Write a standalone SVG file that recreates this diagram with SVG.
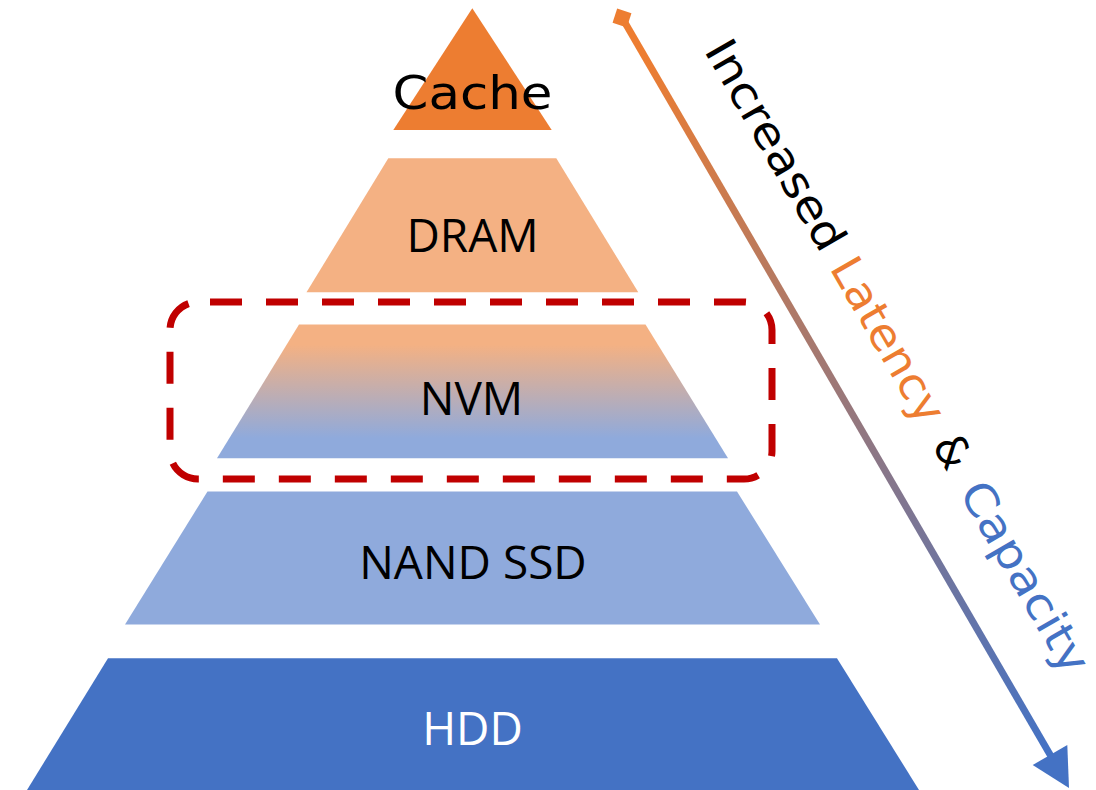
<svg xmlns="http://www.w3.org/2000/svg" width="1096" height="790" viewBox="0 0 1096 790">
  <style>
    .tier-label { font-family: "Open Sans", "Liberation Sans", sans-serif; font-size: 46px; text-anchor: middle; fill: #000000; }
    .geo-label { font-family: "DejaVu Sans", "Liberation Sans", sans-serif; }
    .highlight { fill: none; stroke: #C00000; stroke-width: 7; stroke-dasharray: 32 24; }
  </style>
  <defs>
    <linearGradient id="nvmFill" x1="0" y1="0" x2="0" y2="1">
      <stop offset="0.15" stop-color="#F4B183"/>
      <stop offset="0.85" stop-color="#8FAADC"/>
    </linearGradient>
    <linearGradient id="trendStroke" gradientUnits="userSpaceOnUse" x1="622" y1="17" x2="1069" y2="788">
      <stop offset="0.05" stop-color="#ED7D31"/>
      <stop offset="0.95" stop-color="#4472C4"/>
    </linearGradient>
  </defs>

  <rect width="1096" height="790" fill="#FFFFFF"/>

  <!-- storage hierarchy tiers -->
  <g id="cache">
    <polygon points="472.3,8.3 551.7,130 393.3,130" fill="#ED7D31"/>
    <text class="geo-label" x="472.5" y="109" font-size="47" text-anchor="middle" textLength="160" lengthAdjust="spacingAndGlyphs">Cache</text>
  </g>
  <g id="dram">
    <polygon points="388.3,158.3 556.3,158.3 638.3,292.3 306.5,292.3" fill="#F4B183"/>
    <text class="tier-label" x="472.5" y="251.7">DRAM</text>
  </g>
  <g id="nvm">
    <polygon points="299,324.5 645.5,324.5 728,458.3 217,458.3" fill="url(#nvmFill)"/>
    <text class="tier-label" x="471.5" y="415">NVM</text>
  </g>
  <g id="nand-ssd">
    <polygon points="207.5,491.5 737,491.5 820,624.5 125,624.5" fill="#8FAADC"/>
    <text class="tier-label" x="473" y="579">NAND SSD</text>
  </g>
  <g id="hdd">
    <polygon points="108,658.3 837,658.3 919,790 27,790" fill="#4472C4"/>
    <text class="tier-label" x="472.5" y="745" fill="#FFFFFF" style="fill:#FFFFFF">HDD</text>
  </g>

  <!-- dashed focus outline around the NVM tier -->
  <g id="nvm-highlight">
    <path class="highlight" d="M210,302 H744 A28,28 0 0 1 772,330 V451 A28,28 0 0 1 744,479 H198 A28,28 0 0 1 170,451 V330 A28,28 0 0 1 198,302 Z"/>
  </g>

  <!-- trend arrow -->
  <g id="connectors">
    <line x1="624" y1="21" x2="1052" y2="758" stroke="url(#trendStroke)" stroke-width="7"/>
    <rect x="614.5" y="10.5" width="15" height="15" fill="#ED7D31" transform="rotate(18 622 18)"/>
    <polygon points="1069,788 1067.3,745 1032.7,765" fill="#4472C4"/>
  </g>

  <!-- trend caption along the arrow -->
  <g id="trend-caption" class="geo-label" font-size="44" transform="translate(705 53) rotate(60)">
    <text x="-3" y="0" fill="#000000" textLength="236" lengthAdjust="spacingAndGlyphs">Increased</text>
    <text x="248" y="0" fill="#ED7D31" textLength="184" lengthAdjust="spacingAndGlyphs">Latency</text>
    <text x="453" y="0" fill="#000000" textLength="32" lengthAdjust="spacingAndGlyphs">&amp;</text>
    <text x="507" y="0" fill="#4472C4" textLength="214" lengthAdjust="spacingAndGlyphs">Capacity</text>
  </g>
</svg>
